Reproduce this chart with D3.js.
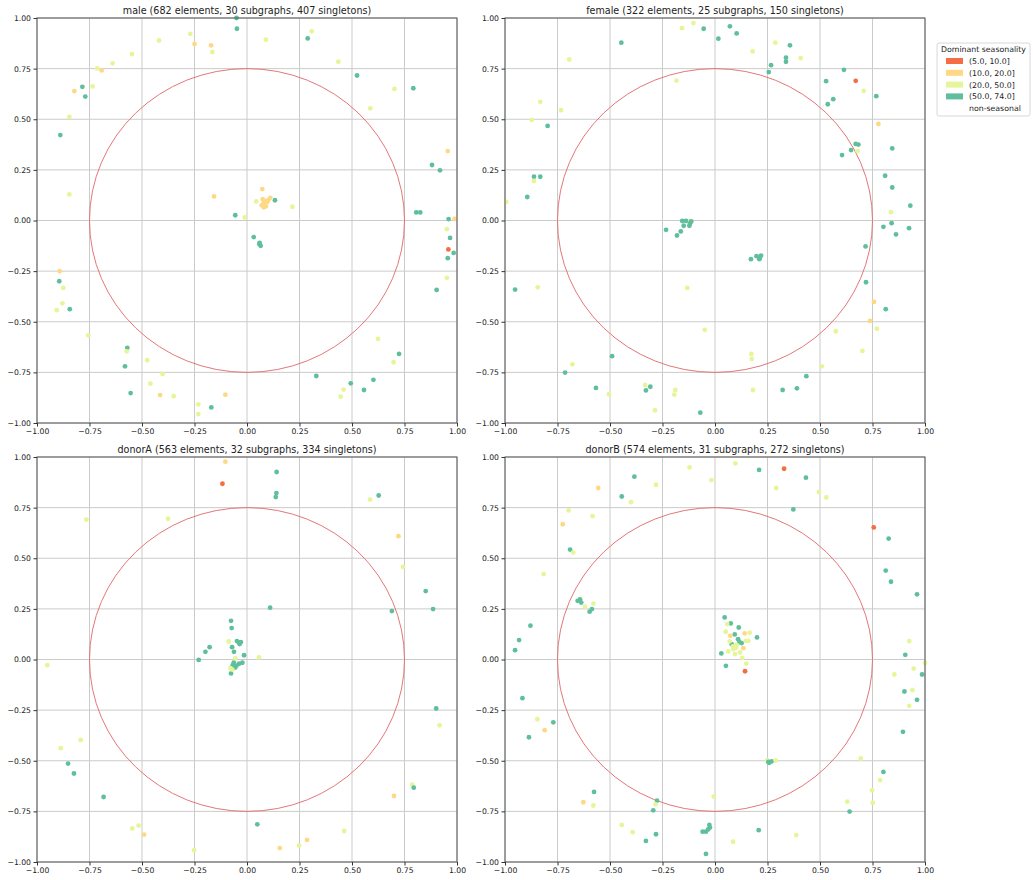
<!DOCTYPE html>
<html>
<head>
<meta charset="utf-8">
<script src="https://cdn.jsdelivr.net/npm/d3@7"></script>
<style>
  body { margin: 0; background: #fff; }
  svg { font-family: "DejaVu Sans", sans-serif; }
</style>
</head>
<body>
<div id="chart"></div>
<script>
// Seasonality bins and their colours
const seasonBins = ['(5.0, 10.0]', '(10.0, 20.0]', '(20.0, 50.0]', '(50.0, 74.0]', 'non-seasonal'];
const binColors = ['#f46d43', '#fdd985', '#e6f598', '#5fbf9c', '#ffffff'];
const axisTicks = [-1, -0.75, -0.5, -0.25, 0, 0.25, 0.5, 0.75, 1];

// points: [x, y, bin index]
const malePoints = [
  [-0.05, 1.0, 3], [-0.048, 0.947, 3], [-0.27, 0.922, 2], [-0.25, 0.871, 1], [-0.419, 0.889, 2],
  [-0.171, 0.865, 1], [-0.165, 0.832, 2], [0.09, 0.893, 2], [0.289, 0.899, 3], [0.308, 0.934, 2],
  [-0.548, 0.822, 2], [-0.64, 0.776, 2], [-0.713, 0.751, 2], [-0.692, 0.741, 1], [0.435, 0.784, 2],
  [0.524, 0.716, 3], [-0.784, 0.66, 3], [-0.822, 0.639, 1], [-0.735, 0.662, 2], [-0.77, 0.612, 3],
  [0.702, 0.65, 2], [0.792, 0.653, 3], [0.587, 0.554, 2], [-0.846, 0.512, 2], [-0.889, 0.422, 3],
  [0.956, 0.343, 1], [0.881, 0.274, 3], [0.919, 0.248, 3], [-0.846, 0.129, 2], [0.073, 0.155, 1],
  [-0.157, 0.119, 1], [0.079, 0.084, 1], [0.07, 0.075, 1], [0.08, 0.065, 1], [0.095, 0.09, 1],
  [0.1, 0.1, 1], [0.085, 0.095, 1], [0.075, 0.105, 1], [0.09, 0.07, 1], [0.111, 0.112, 1],
  [0.044, 0.094, 2], [0.133, 0.1, 3], [0.216, 0.068, 2], [-0.056, 0.026, 3], [-0.011, 0.015, 2],
  [0.806, 0.04, 3], [0.825, 0.04, 3], [0.96, 0.007, 3], [0.989, 0.008, 1], [0.952, -0.043, 2],
  [0.967, -0.086, 3], [0.032, -0.082, 3], [0.059, -0.117, 3], [0.065, -0.125, 3], [0.06, -0.11, 3],
  [0.959, -0.143, 0], [0.984, -0.16, 3], [0.956, -0.186, 3], [0.952, -0.283, 2], [0.903, -0.343, 3],
  [-0.892, -0.25, 1], [-0.894, -0.3, 3], [-0.875, -0.333, 2], [-0.879, -0.409, 2], [-0.906, -0.443, 2],
  [-0.844, -0.438, 3], [-0.756, -0.567, 2], [-0.57, -0.629, 3], [-0.573, -0.646, 2], [-0.581, -0.72, 3],
  [-0.475, -0.69, 2], [-0.554, -0.852, 3], [-0.46, -0.806, 2], [-0.414, -0.862, 1], [-0.402, -0.758, 2],
  [-0.349, -0.868, 2], [-0.232, -0.908, 2], [-0.232, -0.956, 2], [-0.17, -0.923, 3], [-0.103, -0.86, 1],
  [0.33, -0.768, 3], [0.494, -0.804, 3], [0.46, -0.835, 2], [0.446, -0.87, 2], [0.557, -0.837, 3],
  [0.602, -0.787, 3], [0.624, -0.585, 2], [0.724, -0.659, 3], [0.698, -0.7, 2]
];

const femalePoints = [
  [-0.994, 0.092, 2], [-0.894, 0.116, 3], [-0.862, 0.216, 3], [-0.832, 0.216, 3], [-0.862, 0.195, 2],
  [-0.873, 0.497, 2], [-0.832, 0.586, 2], [-0.797, 0.467, 3], [-0.733, 0.545, 2], [-0.694, 0.795, 2],
  [-0.446, 0.878, 3], [-0.183, 0.691, 2], [-0.157, 0.95, 2], [-0.103, 0.975, 2], [-0.054, 0.947, 3],
  [0.016, 0.898, 3], [0.071, 0.959, 3], [0.103, 0.924, 3], [0.179, 0.835, 2], [0.287, 0.878, 2],
  [0.357, 0.865, 3], [0.338, 0.804, 3], [0.338, 0.784, 3], [0.267, 0.767, 3], [0.256, 0.733, 3],
  [0.408, 0.802, 2], [0.614, 0.744, 3], [0.529, 0.688, 3], [0.67, 0.69, 0], [0.708, 0.64, 2],
  [0.768, 0.614, 3], [0.563, 0.599, 3], [0.537, 0.574, 3], [0.778, 0.477, 1], [0.67, 0.378, 3],
  [0.683, 0.375, 3], [0.679, 0.342, 2], [0.648, 0.348, 3], [0.605, 0.323, 3], [0.844, 0.356, 3],
  [0.81, 0.221, 3], [0.844, 0.163, 3], [0.93, 0.073, 3], [0.838, 0.041, 2],
  [-0.122, -0.003, 2], [-0.156, -0.002, 3], [-0.138, -0.002, 3], [-0.149, -0.026, 3], [-0.122, -0.026, 3],
  [-0.113, -0.005, 3], [-0.119, -0.015, 3], [-0.233, -0.046, 3], [-0.163, -0.054, 3], [-0.181, -0.074, 3],
  [0.802, -0.031, 3], [0.841, -0.013, 3], [0.862, -0.069, 3], [0.924, -0.038, 3], [0.717, -0.128, 3],
  [0.171, -0.191, 3], [0.198, -0.176, 3], [0.214, -0.183, 3], [0.219, -0.173, 3], [0.211, -0.191, 3],
  [0.719, -0.305, 3], [-0.952, -0.341, 3], [-0.844, -0.33, 2], [-0.132, -0.333, 2], [0.757, -0.402, 1],
  [0.813, -0.438, 3], [0.738, -0.496, 1], [0.771, -0.534, 2], [0.575, -0.547, 2], [-0.049, -0.54, 2],
  [0.702, -0.644, 2], [0.173, -0.659, 2], [0.175, -0.684, 2], [0.508, -0.72, 2], [0.435, -0.769, 3],
  [-0.49, -0.67, 3], [-0.679, -0.71, 2], [-0.714, -0.751, 3], [-0.567, -0.827, 3], [-0.505, -0.858, 2],
  [-0.333, -0.812, 2], [-0.329, -0.839, 3], [-0.308, -0.821, 3], [-0.189, -0.837, 2], [-0.194, -0.86, 2],
  [-0.286, -0.937, 2], [-0.07, -0.949, 3], [0.181, -0.837, 2], [0.322, -0.837, 3], [0.39, -0.829, 3]
];

const donorAPoints = [
  [-0.103, 0.977, 1], [-0.117, 0.868, 0], [0.141, 0.926, 3], [0.14, 0.822, 3], [0.137, 0.802, 3],
  [-0.765, 0.691, 2], [-0.376, 0.695, 2], [0.586, 0.79, 2], [0.627, 0.81, 3], [0.721, 0.609, 1],
  [0.743, 0.457, 2], [0.851, 0.338, 3], [0.886, 0.249, 3], [0.69, 0.239, 3], [0.11, 0.256, 3],
  [-0.076, 0.191, 3], [-0.073, 0.155, 3], [-0.087, 0.089, 2], [-0.048, 0.091, 3], [-0.038, 0.083, 3],
  [-0.029, 0.086, 3], [-0.035, 0.076, 3], [-0.071, 0.061, 3], [-0.062, 0.038, 3], [-0.178, 0.061, 3],
  [-0.198, 0.038, 3], [-0.23, -0.002, 3], [-0.014, 0.021, 3], [-0.056, 0.007, 2], [0.057, 0.01, 2],
  [-0.951, -0.028, 2], [-0.068, -0.028, 3], [-0.056, -0.04, 3], [-0.038, -0.021, 3], [-0.022, -0.016, 3],
  [-0.063, -0.015, 3], [-0.079, -0.043, 2], [-0.076, -0.069, 3], [-0.07, -0.05, 2], [-0.05, -0.03, 3],
  [0.901, -0.242, 3], [0.917, -0.325, 2], [-0.792, -0.397, 2], [-0.887, -0.438, 2], [-0.852, -0.514, 3],
  [-0.824, -0.563, 3], [-0.683, -0.679, 3], [0.787, -0.618, 2], [0.794, -0.633, 3], [0.7, -0.674, 1],
  [0.049, -0.814, 3], [-0.546, -0.834, 2], [-0.516, -0.82, 2], [-0.49, -0.865, 1], [-0.252, -0.942, 2],
  [0.156, -0.931, 1], [0.248, -0.919, 2], [0.286, -0.891, 1], [0.463, -0.847, 2]
];

const donorBPoints = [
  [-0.121, 0.949, 2], [0.097, 0.969, 2], [-0.017, 0.886, 2], [0.21, 0.936, 3], [0.329, 0.942, 0],
  [0.433, 0.898, 3], [0.292, 0.847, 2], [0.495, 0.827, 2], [0.53, 0.8, 2], [0.373, 0.741, 3],
  [0.756, 0.652, 0], [0.827, 0.597, 3], [0.813, 0.439, 3], [0.838, 0.384, 3], [0.962, 0.322, 3],
  [0.925, 0.091, 2], [0.906, 0.023, 3], [-0.384, 0.903, 3], [-0.444, 0.805, 3], [-0.4, 0.777, 2],
  [-0.281, 0.863, 2], [-0.556, 0.847, 1], [-0.697, 0.736, 2], [-0.725, 0.668, 1], [-0.583, 0.708, 2],
  [-0.69, 0.543, 3], [-0.675, 0.528, 2], [-0.816, 0.422, 2], [-0.879, 0.167, 3], [-0.933, 0.096, 3],
  [-0.952, 0.046, 3], [-0.654, 0.29, 3], [-0.643, 0.297, 3], [-0.637, 0.281, 3], [-0.597, 0.236, 3],
  [-0.586, 0.249, 3], [-0.619, 0.261, 2], [-0.579, 0.276, 2],
  [0.046, 0.208, 3], [0.075, 0.178, 3], [0.113, 0.158, 3], [0.058, 0.175, 2], [0.051, 0.137, 2],
  [0.094, 0.124, 3], [0.141, 0.129, 1], [0.165, 0.132, 2], [0.073, 0.117, 1], [0.2, 0.109, 3],
  [0.116, 0.086, 3], [0.127, 0.081, 3], [0.079, 0.076, 3], [0.103, 0.072, 2], [0.146, 0.092, 2],
  [0.159, 0.092, 2], [0.087, 0.051, 2], [0.135, 0.056, 1], [0.063, 0.04, 2], [0.095, 0.027, 2],
  [0.119, 0.035, 2], [0.03, 0.03, 3], [0.13, 0.008, 2], [0.149, -0.02, 2], [0.052, -0.031, 3],
  [0.143, -0.058, 0], [0.085, 0.065, 2], [0.1, 0.058, 2], [0.07, 0.09, 2], [0.11, 0.1, 3],
  [0.946, -0.045, 2], [0.854, -0.074, 2], [0.986, -0.074, 3], [1.0, -0.017, 2],
  [-0.917, -0.191, 3], [-0.846, -0.295, 2], [-0.77, -0.31, 3], [-0.811, -0.349, 1], [-0.886, -0.384, 3],
  [0.902, -0.158, 3], [0.94, -0.151, 2], [0.962, -0.199, 3], [0.925, -0.229, 2], [0.895, -0.357, 3],
  [0.694, -0.489, 2], [0.802, -0.555, 3], [0.786, -0.596, 2], [0.748, -0.646, 2], [0.63, -0.702, 2],
  [0.751, -0.707, 2], [0.641, -0.751, 3], [0.249, -0.497, 2], [0.254, -0.506, 3], [0.258, -0.51, 3],
  [0.27, -0.503, 3], [0.289, -0.499, 2], [-0.006, -0.677, 2], [-0.576, -0.654, 3], [-0.627, -0.705, 1],
  [-0.579, -0.721, 2], [-0.276, -0.697, 3], [-0.283, -0.715, 2], [-0.294, -0.745, 3], [-0.444, -0.817, 2],
  [-0.392, -0.853, 2], [-0.329, -0.896, 3], [-0.281, -0.863, 3], [-0.059, -0.85, 3], [-0.043, -0.85, 3],
  [-0.033, -0.839, 3], [-0.027, -0.817, 3], [-0.024, -0.83, 3], [-0.043, -0.96, 3], [0.208, -0.843, 3],
  [0.086, -0.9, 2], [0.387, -0.867, 2]
];

const panelTitles = [
  'male (682 elements, 30 subgraphs, 407 singletons)',
  'female (322 elements, 25 subgraphs, 150 singletons)',
  'donorA (563 elements, 32 subgraphs, 334 singletons)',
  'donorB (574 elements, 31 subgraphs, 272 singletons)'
];
const panelPoints = [malePoints, femalePoints, donorAPoints, donorBPoints];

// Layout (pixels)
const W = 1033, H = 880;
const plotW = 420, plotH = 405;
const panelOrigins = [[37, 18], [505, 18], [37, 457], [505, 457]];

const svg = d3.select('#chart').append('svg')
  .attr('width', W).attr('height', H);

const fmt = d => d3.format('.2f')(d).replace('-', '\u2212');

panelPoints.forEach((points, i) => {
  const [ox, oy] = panelOrigins[i];
  const g = svg.append('g').attr('transform', `translate(${ox},${oy})`);

  const x = d3.scaleLinear().domain([-1, 1]).range([0, plotW]);
  const y = d3.scaleLinear().domain([-1, 1]).range([plotH, 0]);

  // grid
  g.append('g').selectAll('line.vx')
    .data(axisTicks).join('line')
    .attr('x1', d => x(d)).attr('x2', d => x(d))
    .attr('y1', 0).attr('y2', plotH)
    .attr('stroke', '#cbcbcb').attr('stroke-width', 1);
  g.append('g').selectAll('line.hy')
    .data(axisTicks).join('line')
    .attr('x1', 0).attr('x2', plotW)
    .attr('y1', d => y(d)).attr('y2', d => y(d))
    .attr('stroke', '#cbcbcb').attr('stroke-width', 1);

  // reference circle, radius 0.75
  g.append('ellipse')
    .attr('cx', x(0)).attr('cy', y(0))
    .attr('rx', x(0.75) - x(0)).attr('ry', y(0) - y(0.75))
    .attr('fill', 'none')
    .attr('stroke', '#e0666b')
    .attr('stroke-width', 0.9);

  // points
  g.append('g').selectAll('circle')
    .data(points).join('circle')
    .attr('cx', d => x(d[0]))
    .attr('cy', d => y(d[1]))
    .attr('r', 2.4)
    .attr('fill', d => binColors[d[2]]);

  // frame
  g.append('rect')
    .attr('width', plotW).attr('height', plotH)
    .attr('fill', 'none').attr('stroke', '#555').attr('stroke-width', 1);

  // axes
  const xAxis = g.append('g').attr('transform', `translate(0,${plotH})`)
    .call(d3.axisBottom(x).tickValues(axisTicks).tickFormat(fmt).tickSize(3.5).tickPadding(2));
  const yAxis = g.append('g')
    .call(d3.axisLeft(y).tickValues(axisTicks).tickFormat(fmt).tickSize(3.5).tickPadding(2.5));
  [xAxis, yAxis].forEach(a => {
    a.select('.domain').remove();
    a.selectAll('line').attr('stroke', '#333');
    a.selectAll('text')
      .attr('fill', '#222')
      .style('font-size', '7.7px')
      .style('font-family', '"DejaVu Sans", sans-serif');
  });

  g.append('text')
    .attr('x', plotW / 2).attr('y', -4)
    .attr('text-anchor', 'middle')
    .style('font-size', '9.6px')
    .attr('fill', '#222')
    .text(panelTitles[i]);
});

// Legend
const legend = svg.append('g').attr('transform', 'translate(937,43)');
legend.append('rect')
  .attr('width', 93).attr('height', 73)
  .attr('rx', 2)
  .attr('fill', '#fff').attr('stroke', '#d8d8d8');
legend.append('text')
  .attr('x', 46.5).attr('y', 9)
  .attr('text-anchor', 'middle')
  .style('font-size', '7.8px').attr('fill', '#222')
  .text('Dominant seasonality');
const rows = legend.selectAll('g.row')
  .data(seasonBins).join('g')
  .attr('transform', (d, i) => `translate(0,${18 + i * 11.8})`);
rows.append('rect')
  .attr('x', 9).attr('y', -3)
  .attr('width', 17).attr('height', 6)
  .attr('fill', (d, i) => binColors[i]);
rows.append('text')
  .attr('x', 32).attr('y', 3)
  .style('font-size', '7.8px').attr('fill', '#222')
  .text(d => d);
</script>
</body>
</html>
